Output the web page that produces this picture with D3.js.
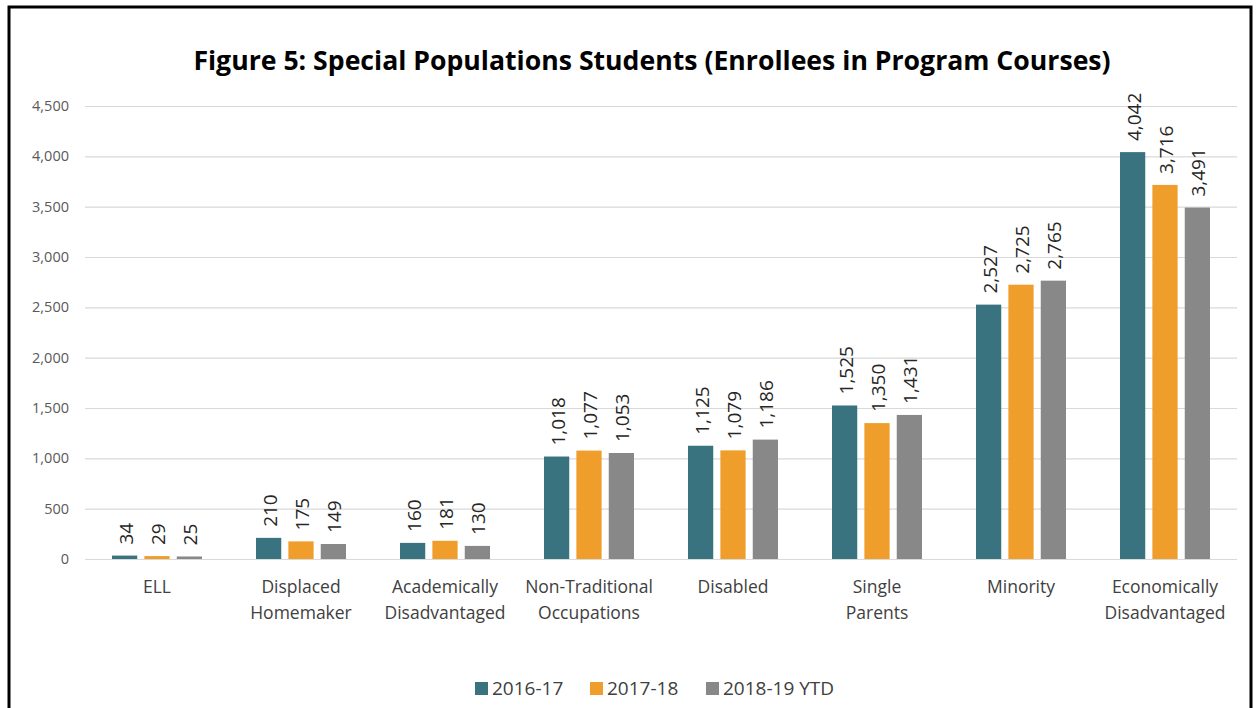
<!DOCTYPE html>
<html>
<head>
<meta charset="utf-8">
<script src="https://cdn.jsdelivr.net/npm/d3@7"></script>
<style>
  html, body { margin: 0; padding: 0; background: #fff; }
  svg { display: block; }
</style>
</head>
<body>
<svg id="chart" width="1256" height="708"></svg>
<script>
// Special populations enrollment by program year
const categories = [
  ["ELL"],
  ["Displaced", "Homemaker"],
  ["Academically", "Disadvantaged"],
  ["Non-Traditional", "Occupations"],
  ["Disabled"],
  ["Single", "Parents"],
  ["Minority"],
  ["Economically", "Disadvantaged"]
];
const seriesNames = ["2016-17", "2017-18", "2018-19 YTD"];
const values2016 = [34, 210, 160, 1018, 1125, 1525, 2527, 4042];
const values2017 = [29, 175, 181, 1077, 1079, 1350, 2725, 3716];
const values2018 = [25, 149, 130, 1053, 1186, 1431, 2765, 3491];
const yTicks = [0, 500, 1000, 1500, 2000, 2500, 3000, 3500, 4000, 4500];
const colors = ["#3A7380", "#EF9E2B", "#888888"];

const series = [values2016, values2017, values2018];
const font = "'Open Sans', 'Noto Sans', sans-serif";
const svg = d3.select("#chart");

// outer frame
svg.append("rect")
  .attr("x", 9).attr("y", 7)
  .attr("width", 1242).attr("height", 760)
  .attr("fill", "none").attr("stroke", "#000").attr("stroke-width", 3);

// title
const title = svg.append("text")
  .attr("x", 652).attr("y", 70)
  .attr("text-anchor", "middle")
  .attr("font-family", font).attr("font-weight", "bold")
  .attr("font-size", 27).attr("fill", "#000")
  .text("Figure 5: Special Populations Students (Enrollees in Program Courses)");
{
  const w = title.node().getComputedTextLength();
  title.attr("font-size", 27 * 918 / w);
}

const plotLeft = 85, plotRight = 1237, plotTop = 106, plotBottom = 559;

const y = d3.scaleLinear().domain([0, 4500]).range([plotBottom, plotTop]);
const x0 = d3.scaleBand().domain(d3.range(categories.length)).range([plotLeft, plotRight]);
const groupWidth = 90;
const x1 = d3.scaleBand().domain(d3.range(series.length))
  .range([-groupWidth / 2, groupWidth / 2]).paddingInner(0.22);

// gridlines and y tick labels
const yAxis = d3.axisLeft(y).tickValues(yTicks).tickSize(-(plotRight - plotLeft))
  .tickFormat(d3.format(","));
const ga = svg.append("g").attr("transform", `translate(${plotLeft},0)`).call(yAxis);
ga.select(".domain").remove();
ga.selectAll(".tick line").attr("stroke", "#d9d9d9").attr("stroke-width", 1.2);
ga.selectAll(".tick text")
  .attr("x", -16)
  .attr("font-family", font).attr("font-size", 14.5).attr("fill", "#595959");

// bars
const groups = svg.append("g").selectAll("g")
  .data(categories).join("g")
  .attr("transform", (d, i) => `translate(${x0(i) + x0.bandwidth() / 2},0)`);

groups.each(function (cat, ci) {
  const g = d3.select(this);
  series.forEach((vals, si) => {
    const v = vals[ci];
    const bx = x1(si);
    g.append("rect")
      .attr("x", bx).attr("y", y(v))
      .attr("width", x1.bandwidth()).attr("height", y(0) - y(v))
      .attr("fill", colors[si]);
    g.append("text")
      .attr("transform", `translate(${bx + x1.bandwidth() / 2 + 1},${y(v) - 11}) rotate(-90)`)
      .attr("text-anchor", "start").attr("dominant-baseline", "central")
      .attr("font-family", font).attr("font-size", 19).attr("fill", "#262626")
      .text(d3.format(",")(v));
  });
  // category label
  const t = g.append("text")
    .attr("text-anchor", "middle")
    .attr("font-family", font).attr("font-size", 17.5).attr("fill", "#404040");
  cat.forEach((line, li) => {
    t.append("tspan").attr("x", 0).attr("y", 593 + li * 26).text(line);
  });
});

// legend
const legendItems = [
  { x: 475, label: seriesNames[0] },
  { x: 590, label: seriesNames[1] },
  { x: 706, label: seriesNames[2] }
];
const lg = svg.append("g");
legendItems.forEach((it, i) => {
  lg.append("rect").attr("x", it.x).attr("y", 682)
    .attr("width", 13).attr("height", 13).attr("fill", colors[i]);
  lg.append("text").attr("x", it.x + 17).attr("y", 695)
    .attr("font-family", font).attr("font-size", 19).attr("fill", "#404040")
    .text(it.label);
});
</script>
</body>
</html>
